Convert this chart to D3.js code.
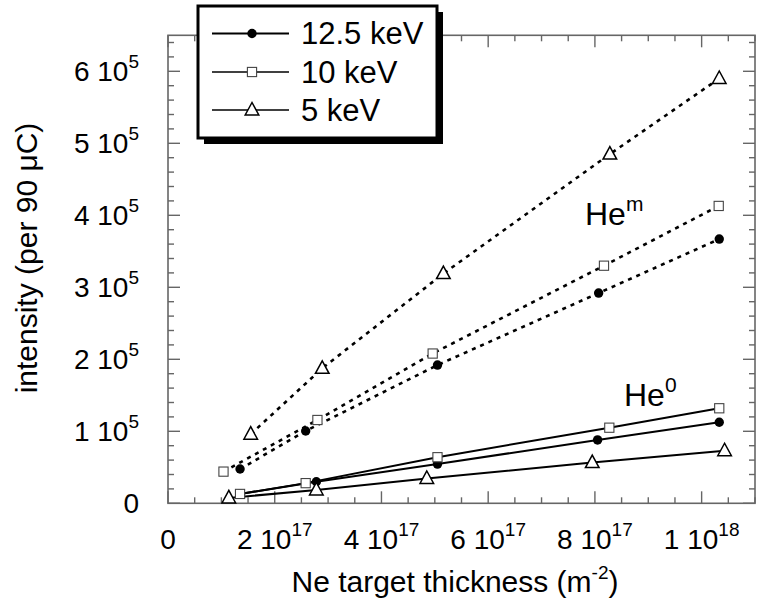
<!DOCTYPE html>
<html lang="en">
<head>
<meta charset="UTF-8">
<title>He intensity vs Ne target thickness</title>
<script src="https://cdnjs.cloudflare.com/ajax/libs/d3/7.8.5/d3.min.js"></script>
<style>
    body { margin: 0; background: #fff; }
    svg { display: block; font-family: 'Liberation Sans', Arial, Helvetica, sans-serif; }
    text { fill: #000; }
</style>
</head>
<body>
<div id="chart"></div>
<script>
// thickness in units of 1e18 m^-2, intensity in units of 1e5
const energies = ["12.5 keV", "10 keV", "5 keV"];
const markers = ["dot", "square", "triangle"];

// He^m (dotted)
const hemX125 = [0.135, 0.258, 0.505, 0.807, 1.033];
const hemY125 = [0.476, 1.004, 1.92, 2.92, 3.67];
const hemX10 = [0.104, 0.280, 0.496, 0.817, 1.032];
const hemY10 = [0.44, 1.157, 2.08, 3.30, 4.13];
const hemX5 = [0.155, 0.289, 0.516, 0.828, 1.033];
const hemY5 = [0.96, 1.875, 3.19, 4.85, 5.90];

// He^0 (solid)
const he0X125 = [0.135, 0.278, 0.505, 0.805, 1.033];
const he0Y125 = [0.13, 0.30, 0.545, 0.88, 1.125];
const he0X10 = [0.135, 0.258, 0.505, 0.827, 1.033];
const he0Y10 = [0.13, 0.28, 0.64, 1.05, 1.32];
const he0X5 = [0.114, 0.278, 0.485, 0.795, 1.043];
const he0Y5 = [0.075, 0.185, 0.345, 0.565, 0.73];

const xTicks = [0, 0.2, 0.4, 0.6, 0.8, 1.0];
const xTickMant = ["0", "2", "4", "6", "8", "1"];
const xTickExp = ["", "17", "17", "17", "17", "18"];
const yTicks = [0, 1, 2, 3, 4, 5, 6];
const yTickMant = ["0", "1", "2", "3", "4", "5", "6"];
const yTickExp = ["", "5", "5", "5", "5", "5", "5"];

const W = 757, H = 612;
const svg = d3.select("#chart").append("svg").attr("width", W).attr("height", H);

const x = d3.scaleLinear().domain([0, 1.1]).range([168, 755]);
const y = d3.scaleLinear().domain([0, 6.5]).range([503.3, 35.3]);

const frame = "#666";

// minor + major ticks on all four sides, pointing inward
const xMinor = d3.range(0, 1.1001, 0.05);
const yMinor = d3.range(0, 6.5001, 0.2);
const isMajorX = v => Math.abs(v * 5 - Math.round(v * 5)) < 1e-6;
const isMajorY = v => Math.abs(v - Math.round(v)) < 1e-6;
const tickG = svg.append("g").attr("stroke", frame).attr("stroke-width", 1.4);
xMinor.forEach(v => {
    const len = isMajorX(v) ? 12 : 6;
    tickG.append("line").attr("x1", x(v)).attr("x2", x(v)).attr("y1", y(0)).attr("y2", y(0) - len);
    tickG.append("line").attr("x1", x(v)).attr("x2", x(v)).attr("y1", y(6.5)).attr("y2", y(6.5) + len);
});
yMinor.forEach(v => {
    const len = isMajorY(v) ? 12 : 6;
    tickG.append("line").attr("x1", x(0)).attr("x2", x(0) + len).attr("y1", y(v)).attr("y2", y(v));
    tickG.append("line").attr("x1", x(1.1)).attr("x2", x(1.1) - len).attr("y1", y(v)).attr("y2", y(v));
});
svg.append("rect")
    .attr("x", x(0)).attr("y", y(6.5))
    .attr("width", x(1.1) - x(0)).attr("height", y(0) - y(6.5))
    .attr("fill", "none").attr("stroke", frame).attr("stroke-width", 1.6);

// tick labels
xTicks.forEach((v, i) => {
    const t = svg.append("text").attr("x", x(v)).attr("y", 549)
        .attr("text-anchor", "middle").attr("font-size", 28);
    t.append("tspan").text(xTickMant[i] + (xTickExp[i] ? " 10" : ""));
    if (xTickExp[i]) t.append("tspan").attr("font-size", 19).attr("dy", -13).text(xTickExp[i]);
});
yTicks.forEach((v, i) => {
    const t = svg.append("text").attr("x", 139).attr("y", y(v) + 10)
        .attr("text-anchor", "end").attr("font-size", 28);
    t.append("tspan").text(yTickMant[i] + (yTickExp[i] ? " 10" : ""));
    if (yTickExp[i]) t.append("tspan").attr("font-size", 19).attr("dy", -13).text(yTickExp[i]);
});

// axis titles
const xt = svg.append("text").attr("x", 455).attr("y", 592)
    .attr("text-anchor", "middle").attr("font-size", 30);
xt.append("tspan").text("Ne target thickness (m");
xt.append("tspan").attr("font-size", 19).attr("dy", -13).text("-2");
xt.append("tspan").attr("dy", 13).text(")");

svg.append("text")
    .attr("transform", "translate(37,258) rotate(-90)")
    .attr("text-anchor", "middle").attr("font-size", 30)
    .text("intensity (per 90 \u03bcC)");

// marker drawing
function drawMarker(g, type, cx, cy) {
    if (type === "dot") {
        g.append("circle").attr("cx", cx).attr("cy", cy).attr("r", 4.7).attr("fill", "#000");
    } else if (type === "square") {
        g.append("rect").attr("x", cx - 4.6).attr("y", cy - 4.6).attr("width", 9.2).attr("height", 9.2)
            .attr("fill", "#fff").attr("stroke", "#444").attr("stroke-width", 1.1);
    } else {
        g.append("path")
            .attr("d", `M${cx},${cy - 7.5}L${cx - 6.8},${cy + 5}L${cx + 6.8},${cy + 5}Z`)
            .attr("fill", "#fff").attr("stroke", "#000").attr("stroke-width", 1.5);
    }
}

const hemSets = [[hemX125, hemY125], [hemX10, hemY10], [hemX5, hemY5]];
const he0Sets = [[he0X125, he0Y125], [he0X10, he0Y10], [he0X5, he0Y5]];
const line = d3.line().x(d => x(d[0])).y(d => y(d[1]));

const lineG = svg.append("g").attr("fill", "none");
hemSets.forEach(([xs, ys]) => {
    lineG.append("path").attr("d", line(d3.zip(xs, ys)))
        .attr("stroke", "#000").attr("stroke-width", 2.6).attr("stroke-dasharray", "4,5");
});
he0Sets.forEach(([xs, ys]) => {
    lineG.append("path").attr("d", line(d3.zip(xs, ys)))
        .attr("stroke", "#000").attr("stroke-width", 2);
});

const markG = svg.append("g");
[hemSets, he0Sets].forEach(sets => {
    sets.forEach(([xs, ys], i) => {
        xs.forEach((xv, j) => drawMarker(markG, markers[i], x(xv), y(ys[j])));
    });
});

// He labels
function heLabel(px, py, sup) {
    const t = svg.append("text").attr("x", px).attr("y", py).attr("font-size", 32);
    t.append("tspan").text("He");
    t.append("tspan").attr("font-size", 21).attr("dy", -14).text(sup);
}
heLabel(585, 225, "m");
heLabel(624, 406, "0");

// legend
const lg = svg.append("g");
lg.append("rect").attr("x", 204).attr("y", 12).attr("width", 239).attr("height", 132).attr("fill", "#000");
lg.append("rect").attr("x", 198).attr("y", 6).attr("width", 239).attr("height", 132)
    .attr("fill", "#fff").attr("stroke", "#000").attr("stroke-width", 3);
const rowY = [33.5, 72, 110];
const rowW = [2, 1.5, 1.5];
energies.forEach((name, i) => {
    lg.append("line").attr("x1", 212).attr("x2", 289).attr("y1", rowY[i]).attr("y2", rowY[i])
        .attr("stroke", "#000").attr("stroke-width", rowW[i]);
    drawMarker(lg, markers[i], 252, rowY[i]);
    lg.append("text").attr("x", 301).attr("y", rowY[i] + 10.5).attr("font-size", 31).text(name);
});
</script>
</body>
</html>
